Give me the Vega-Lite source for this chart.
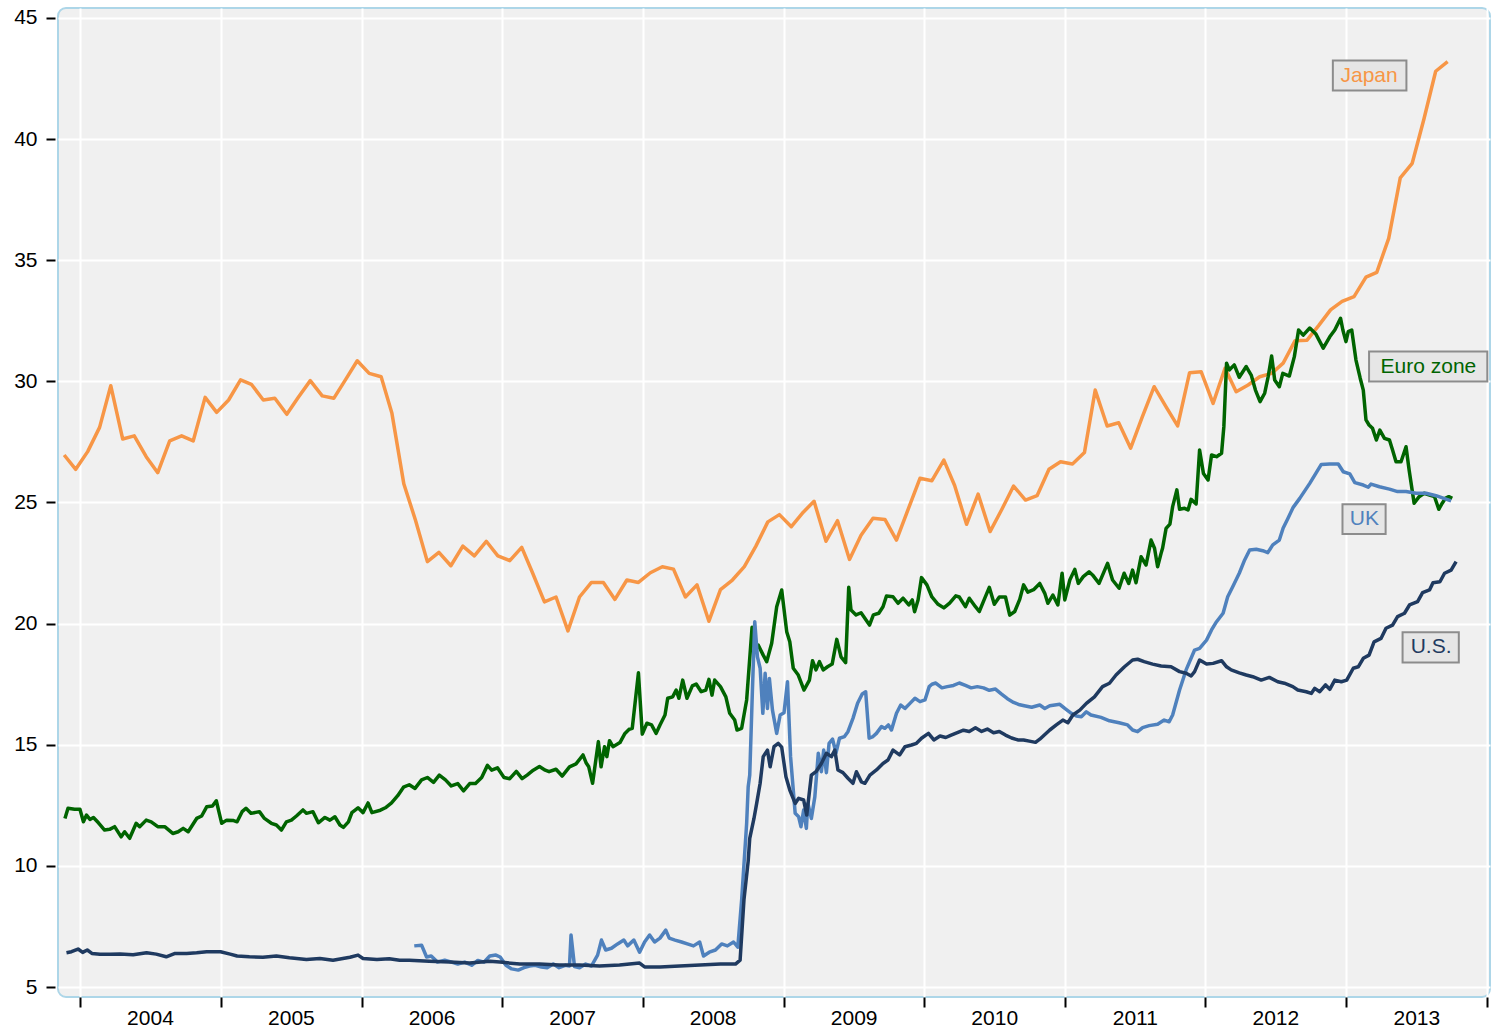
{
  "$schema": "https://vega.github.io/schema/vega-lite/v6.json",
  "width": 1432,
  "height": 989,
  "autosize": {"type": "none"},
  "padding": {"left": 58, "top": 8, "right": 3, "bottom": 31},
  "background": "white",
  "config": {
    "view": {"fill": "#f0f0f0", "stroke": "#add6e8", "strokeWidth": 2, "cornerRadius": 8},
    "font": "Liberation Sans"
  },
  "datasets": {
    "japan": [
      {"date":"2003-11-21","value":26.96},{"date":"2003-12-21","value":26.37},{"date":"2004-01-21","value":27.10},{"date":"2004-02-21","value":28.10},{"date":"2004-03-21","value":29.82},{"date":"2004-04-21","value":27.62},{"date":"2004-05-21","value":27.75},{"date":"2004-06-21","value":26.89},{"date":"2004-07-21","value":26.23},{"date":"2004-08-21","value":27.54},{"date":"2004-09-21","value":27.75},{"date":"2004-10-21","value":27.54},{"date":"2004-11-21","value":29.34},{"date":"2004-12-21","value":28.72},
      {"date":"2005-01-21","value":29.23},{"date":"2005-02-21","value":30.06},{"date":"2005-03-21","value":29.88},{"date":"2005-04-21","value":29.23},{"date":"2005-05-21","value":29.30},{"date":"2005-06-21","value":28.64},{"date":"2005-07-21","value":29.34},{"date":"2005-08-21","value":30.03},{"date":"2005-09-21","value":29.40},{"date":"2005-10-21","value":29.30},{"date":"2005-11-21","value":30.08},{"date":"2005-12-21","value":30.85},
      {"date":"2006-01-21","value":30.33},{"date":"2006-02-21","value":30.19},{"date":"2006-03-21","value":28.68},{"date":"2006-04-21","value":25.76},{"date":"2006-05-21","value":24.28},{"date":"2006-06-21","value":22.56},{"date":"2006-07-21","value":22.94},{"date":"2006-08-21","value":22.39},{"date":"2006-09-21","value":23.2},{"date":"2006-10-21","value":22.8},{"date":"2006-11-21","value":23.4},{"date":"2006-12-21","value":22.8},
      {"date":"2007-01-21","value":22.6},{"date":"2007-02-21","value":23.15},{"date":"2007-03-21","value":22.1},{"date":"2007-04-21","value":20.9},{"date":"2007-05-21","value":21.1},{"date":"2007-06-21","value":19.7},{"date":"2007-07-21","value":21.1},{"date":"2007-08-21","value":21.7},{"date":"2007-09-21","value":21.7},{"date":"2007-10-21","value":21.0},{"date":"2007-11-21","value":21.8},{"date":"2007-12-21","value":21.7},
      {"date":"2008-01-21","value":22.1},{"date":"2008-02-21","value":22.35},{"date":"2008-03-21","value":22.25},{"date":"2008-04-21","value":21.1},{"date":"2008-05-21","value":21.6},{"date":"2008-06-21","value":20.1},{"date":"2008-07-21","value":21.4},{"date":"2008-08-21","value":21.8},{"date":"2008-09-21","value":22.35},{"date":"2008-10-21","value":23.2},{"date":"2008-11-21","value":24.2},{"date":"2008-12-21","value":24.5},
      {"date":"2009-01-21","value":24.0},{"date":"2009-02-21","value":24.6},{"date":"2009-03-21","value":25.05},{"date":"2009-04-21","value":23.4},{"date":"2009-05-21","value":24.25},{"date":"2009-06-21","value":22.65},{"date":"2009-07-21","value":23.65},{"date":"2009-08-21","value":24.35},{"date":"2009-09-21","value":24.3},{"date":"2009-10-21","value":23.45},{"date":"2009-11-21","value":24.75},{"date":"2009-12-21","value":26.0},
      {"date":"2010-01-21","value":25.9},{"date":"2010-02-21","value":26.75},{"date":"2010-03-21","value":25.7},{"date":"2010-04-21","value":24.1},{"date":"2010-05-21","value":25.35},{"date":"2010-06-21","value":23.8},{"date":"2010-07-21","value":24.7},{"date":"2010-08-21","value":25.68},{"date":"2010-09-21","value":25.10},{"date":"2010-10-21","value":25.28},{"date":"2010-11-21","value":26.37},{"date":"2010-12-21","value":26.68},
      {"date":"2011-01-21","value":26.59},{"date":"2011-02-21","value":27.06},{"date":"2011-03-21","value":29.64},{"date":"2011-04-21","value":28.16},{"date":"2011-05-21","value":28.29},{"date":"2011-06-21","value":27.24},{"date":"2011-07-21","value":28.52},{"date":"2011-08-21","value":29.78},{"date":"2011-09-21","value":28.95},{"date":"2011-10-21","value":28.16},{"date":"2011-11-21","value":30.36},{"date":"2011-12-21","value":30.40},
      {"date":"2012-01-21","value":29.09},{"date":"2012-02-21","value":30.54},{"date":"2012-03-21","value":29.57},{"date":"2012-04-21","value":29.85},{"date":"2012-05-21","value":30.19},{"date":"2012-06-21","value":30.33},{"date":"2012-07-21","value":30.75},{"date":"2012-08-21","value":31.68},{"date":"2012-09-21","value":31.7},{"date":"2012-10-21","value":32.3},{"date":"2012-11-21","value":32.95},{"date":"2012-12-21","value":33.3},
      {"date":"2013-01-21","value":33.5},{"date":"2013-02-21","value":34.3},{"date":"2013-03-21","value":34.5},{"date":"2013-04-21","value":35.9},{"date":"2013-05-21","value":38.4},{"date":"2013-06-21","value":39.0},{"date":"2013-07-21","value":40.8},{"date":"2013-08-21","value":42.8},{"date":"2013-09-21","value":43.2}
    ],
    "euro": [
      {"date":"2003-11-23","value":11.96},{"date":"2003-12-01","value":12.38},{"date":"2003-12-18","value":12.34},{"date":"2004-01-01","value":12.34},{"date":"2004-01-10","value":11.82},{"date":"2004-01-18","value":12.10},{"date":"2004-01-27","value":11.92},{"date":"2004-02-05","value":12.0},{"date":"2004-02-18","value":11.78},{"date":"2004-03-05","value":11.48},{"date":"2004-03-18","value":11.51},{"date":"2004-03-31","value":11.62},{"date":"2004-04-17","value":11.20},{"date":"2004-04-26","value":11.41},{"date":"2004-05-09","value":11.14},{"date":"2004-05-26","value":11.76},{"date":"2004-06-04","value":11.62},{"date":"2004-06-21","value":11.89},{"date":"2004-07-04","value":11.82},{"date":"2004-07-21","value":11.62},{"date":"2004-08-08","value":11.62},{"date":"2004-08-29","value":11.34},{"date":"2004-09-12","value":11.41},{"date":"2004-09-25","value":11.55},{"date":"2004-10-08","value":11.41},{"date":"2004-10-30","value":11.96},{"date":"2004-11-12","value":12.06},{"date":"2004-11-25","value":12.44},{"date":"2004-12-10","value":12.47},{"date":"2004-12-20","value":12.69},
      {"date":"2005-01-03","value":11.76},{"date":"2005-01-16","value":11.89},{"date":"2005-02-03","value":11.87},{"date":"2005-02-12","value":11.82},{"date":"2005-02-25","value":12.24},{"date":"2005-03-07","value":12.38},{"date":"2005-03-20","value":12.17},{"date":"2005-04-11","value":12.24},{"date":"2005-04-24","value":11.96},{"date":"2005-05-12","value":11.76},{"date":"2005-05-25","value":11.69},{"date":"2005-06-07","value":11.48},{"date":"2005-06-20","value":11.82},{"date":"2005-07-03","value":11.89},{"date":"2005-07-16","value":12.06},{"date":"2005-08-02","value":12.31},{"date":"2005-08-11","value":12.17},{"date":"2005-08-28","value":12.24},{"date":"2005-09-11","value":11.78},{"date":"2005-09-28","value":12.0},{"date":"2005-10-11","value":11.89},{"date":"2005-10-24","value":12.03},{"date":"2005-11-06","value":11.69},{"date":"2005-11-15","value":11.59},{"date":"2005-11-28","value":11.82},{"date":"2005-12-07","value":12.2},{"date":"2005-12-23","value":12.4},
      {"date":"2006-01-05","value":12.2},{"date":"2006-01-18","value":12.6},{"date":"2006-01-28","value":12.2},{"date":"2006-02-19","value":12.3},{"date":"2006-03-04","value":12.4},{"date":"2006-03-20","value":12.6},{"date":"2006-04-05","value":12.9},{"date":"2006-04-20","value":13.25},{"date":"2006-05-05","value":13.35},{"date":"2006-05-20","value":13.2},{"date":"2006-06-06","value":13.55},{"date":"2006-06-21","value":13.65},{"date":"2006-07-07","value":13.45},{"date":"2006-07-22","value":13.75},{"date":"2006-08-07","value":13.55},{"date":"2006-08-22","value":13.3},{"date":"2006-09-08","value":13.4},{"date":"2006-09-23","value":13.1},{"date":"2006-10-09","value":13.4},{"date":"2006-10-24","value":13.4},{"date":"2006-11-09","value":13.65},{"date":"2006-11-24","value":14.15},{"date":"2006-12-05","value":13.95},{"date":"2006-12-20","value":14.05},
      {"date":"2007-01-06","value":13.65},{"date":"2007-01-21","value":13.6},{"date":"2007-02-07","value":13.9},{"date":"2007-02-22","value":13.6},{"date":"2007-03-07","value":13.75},{"date":"2007-03-23","value":13.95},{"date":"2007-04-08","value":14.1},{"date":"2007-04-23","value":13.95},{"date":"2007-05-03","value":13.89},{"date":"2007-05-21","value":13.99},{"date":"2007-06-06","value":13.71},{"date":"2007-06-25","value":14.09},{"date":"2007-07-12","value":14.21},{"date":"2007-07-30","value":14.58},{"date":"2007-08-07","value":14.26},{"date":"2007-08-14","value":14.09},{"date":"2007-08-24","value":13.41},{"date":"2007-09-08","value":15.13},{"date":"2007-09-15","value":14.09},{"date":"2007-09-24","value":14.92},{"date":"2007-09-30","value":14.51},{"date":"2007-10-07","value":15.17},{"date":"2007-10-16","value":14.92},{"date":"2007-11-03","value":15.09},{"date":"2007-11-16","value":15.47},{"date":"2007-11-27","value":15.64},{"date":"2007-12-05","value":15.68},{"date":"2007-12-21","value":17.97},{"date":"2007-12-31","value":15.44},
      {"date":"2008-01-12","value":15.89},{"date":"2008-01-24","value":15.82},{"date":"2008-02-05","value":15.47},{"date":"2008-02-15","value":15.82},{"date":"2008-02-28","value":16.23},{"date":"2008-03-06","value":16.92},{"date":"2008-03-19","value":16.98},{"date":"2008-03-28","value":17.26},{"date":"2008-04-04","value":16.92},{"date":"2008-04-14","value":17.67},{"date":"2008-04-25","value":16.92},{"date":"2008-05-09","value":17.43},{"date":"2008-05-19","value":17.51},{"date":"2008-06-01","value":17.19},{"date":"2008-06-13","value":17.26},{"date":"2008-06-21","value":17.70},{"date":"2008-06-29","value":17.05},{"date":"2008-07-06","value":17.67},{"date":"2008-07-21","value":17.40},{"date":"2008-08-04","value":16.98},{"date":"2008-08-14","value":16.30},{"date":"2008-08-27","value":16.02},{"date":"2008-09-02","value":15.61},{"date":"2008-09-14","value":15.68},{"date":"2008-09-27","value":16.85},{"date":"2008-10-11","value":19.85},{"date":"2008-10-18","value":18.84},{"date":"2008-10-27","value":19.12},{"date":"2008-11-09","value":18.70},{"date":"2008-11-18","value":18.43},{"date":"2008-12-01","value":19.19},{"date":"2008-12-14","value":20.70},{"date":"2008-12-27","value":21.39},
      {"date":"2009-01-09","value":19.67},{"date":"2009-01-17","value":19.25},{"date":"2009-01-26","value":18.16},{"date":"2009-02-08","value":17.88},{"date":"2009-02-23","value":17.26},{"date":"2009-03-09","value":17.67},{"date":"2009-03-17","value":18.47},{"date":"2009-03-26","value":18.09},{"date":"2009-04-04","value":18.43},{"date":"2009-04-14","value":18.09},{"date":"2009-04-25","value":18.22},{"date":"2009-05-07","value":18.33},{"date":"2009-05-19","value":19.35},{"date":"2009-05-30","value":18.63},{"date":"2009-06-11","value":18.39},{"date":"2009-06-19","value":21.5},{"date":"2009-06-25","value":20.56},{"date":"2009-07-08","value":20.36},{"date":"2009-07-21","value":20.45},{"date":"2009-08-03","value":20.15},{"date":"2009-08-12","value":19.94},{"date":"2009-08-22","value":20.36},{"date":"2009-09-05","value":20.43},{"date":"2009-09-16","value":20.70},{"date":"2009-09-25","value":21.14},{"date":"2009-10-12","value":21.11},{"date":"2009-10-25","value":20.84},{"date":"2009-11-07","value":21.05},{"date":"2009-11-22","value":20.77},{"date":"2009-12-01","value":20.98},{"date":"2009-12-07","value":20.49},{"date":"2009-12-16","value":20.98},{"date":"2009-12-25","value":21.9},
      {"date":"2010-01-08","value":21.6},{"date":"2010-01-21","value":21.1},{"date":"2010-02-06","value":20.8},{"date":"2010-02-21","value":20.65},{"date":"2010-03-08","value":20.85},{"date":"2010-03-24","value":21.15},{"date":"2010-04-02","value":21.1},{"date":"2010-04-18","value":20.7},{"date":"2010-04-28","value":21.05},{"date":"2010-05-14","value":20.7},{"date":"2010-05-24","value":20.5},{"date":"2010-06-06","value":21.0},{"date":"2010-06-19","value":21.5},{"date":"2010-07-02","value":20.8},{"date":"2010-07-15","value":21.1},{"date":"2010-07-31","value":21.1},{"date":"2010-08-11","value":20.35},{"date":"2010-08-24","value":20.5},{"date":"2010-09-06","value":21.0},{"date":"2010-09-16","value":21.6},{"date":"2010-09-27","value":21.3},{"date":"2010-10-12","value":21.4},{"date":"2010-10-28","value":21.66},{"date":"2010-11-10","value":21.25},{"date":"2010-11-18","value":20.84},{"date":"2010-12-01","value":21.18},{"date":"2010-12-14","value":20.77},{"date":"2010-12-25","value":22.08},
      {"date":"2011-01-01","value":20.98},{"date":"2011-01-14","value":21.80},{"date":"2011-01-27","value":22.24},{"date":"2011-02-05","value":21.66},{"date":"2011-02-18","value":21.94},{"date":"2011-03-05","value":22.14},{"date":"2011-03-14","value":22.01},{"date":"2011-03-31","value":21.66},{"date":"2011-04-22","value":22.49},{"date":"2011-05-05","value":21.80},{"date":"2011-05-22","value":21.46},{"date":"2011-06-04","value":22.08},{"date":"2011-06-16","value":21.66},{"date":"2011-06-26","value":22.21},{"date":"2011-07-05","value":21.69},{"date":"2011-07-18","value":22.76},{"date":"2011-07-31","value":22.42},{"date":"2011-08-13","value":23.45},{"date":"2011-08-22","value":23.11},{"date":"2011-08-30","value":22.35},{"date":"2011-09-08","value":22.90},{"date":"2011-09-12","value":23.12},{"date":"2011-09-21","value":23.93},{"date":"2011-10-01","value":24.11},{"date":"2011-10-08","value":24.83},{"date":"2011-10-19","value":25.52},{"date":"2011-10-26","value":24.72},{"date":"2011-11-08","value":24.76},{"date":"2011-11-17","value":24.69},{"date":"2011-11-25","value":25.13},{"date":"2011-12-08","value":24.94},{"date":"2011-12-17","value":27.17},{"date":"2011-12-27","value":26.20},
      {"date":"2012-01-08","value":25.93},{"date":"2012-01-17","value":26.96},{"date":"2012-01-30","value":26.89},{"date":"2012-02-12","value":27.03},{"date":"2012-02-18","value":28.13},{"date":"2012-02-25","value":30.75},{"date":"2012-03-03","value":30.47},{"date":"2012-03-16","value":30.68},{"date":"2012-03-29","value":30.17},{"date":"2012-04-16","value":30.61},{"date":"2012-04-29","value":30.26},{"date":"2012-05-10","value":29.64},{"date":"2012-05-22","value":29.16},{"date":"2012-06-03","value":29.51},{"date":"2012-06-12","value":30.19},{"date":"2012-06-21","value":31.05},{"date":"2012-06-29","value":30.06},{"date":"2012-07-11","value":29.78},{"date":"2012-07-20","value":30.33},{"date":"2012-08-06","value":30.22},{"date":"2012-08-19","value":31.02},{"date":"2012-08-30","value":32.12},{"date":"2012-09-11","value":31.91},{"date":"2012-09-28","value":32.2},{"date":"2012-10-14","value":31.95},{"date":"2012-11-02","value":31.37},{"date":"2012-11-19","value":31.84},{"date":"2012-12-02","value":32.12},{"date":"2012-12-17","value":32.6},{"date":"2012-12-23","value":32.12},{"date":"2012-12-31","value":31.64},
      {"date":"2013-01-06","value":32.05},{"date":"2013-01-15","value":32.12},{"date":"2013-01-26","value":30.88},{"date":"2013-02-06","value":30.13},{"date":"2013-02-14","value":29.64},{"date":"2013-02-21","value":28.41},{"date":"2013-03-01","value":28.20},{"date":"2013-03-10","value":28.06},{"date":"2013-03-20","value":27.58},{"date":"2013-03-29","value":27.99},{"date":"2013-04-10","value":27.65},{"date":"2013-04-23","value":27.58},{"date":"2013-05-01","value":27.17},{"date":"2013-05-10","value":26.68},{"date":"2013-05-23","value":26.68},{"date":"2013-06-05","value":27.30},{"date":"2013-06-13","value":26.34},{"date":"2013-06-26","value":24.97},{"date":"2013-07-09","value":25.24},{"date":"2013-07-22","value":25.38},{"date":"2013-08-05","value":25.31},{"date":"2013-08-18","value":25.24},{"date":"2013-08-29","value":24.72},{"date":"2013-09-07","value":24.97},{"date":"2013-09-15","value":25.17},{"date":"2013-09-24","value":25.24},{"date":"2013-10-03","value":25.17}
    ],
    "uk": [
      {"date":"2006-05-18","value":6.7},{"date":"2006-06-06","value":6.73},{"date":"2006-06-19","value":6.24},{"date":"2006-07-01","value":6.28},{"date":"2006-07-17","value":6.03},{"date":"2006-08-05","value":6.11},{"date":"2006-08-23","value":6.03},{"date":"2006-09-08","value":5.95},{"date":"2006-09-26","value":6.03},{"date":"2006-10-14","value":5.9},{"date":"2006-10-30","value":6.1},{"date":"2006-11-15","value":6.03},{"date":"2006-11-30","value":6.28},{"date":"2006-12-16","value":6.32},{"date":"2006-12-27","value":6.24},
      {"date":"2007-01-11","value":5.9},{"date":"2007-01-26","value":5.75},{"date":"2007-02-12","value":5.7},{"date":"2007-02-27","value":5.8},{"date":"2007-03-13","value":5.87},{"date":"2007-03-28","value":5.9},{"date":"2007-04-13","value":5.83},{"date":"2007-04-28","value":5.8},{"date":"2007-05-14","value":5.95},{"date":"2007-05-29","value":5.8},{"date":"2007-06-14","value":5.9},{"date":"2007-06-25","value":5.87},{"date":"2007-06-29","value":7.15},{"date":"2007-07-08","value":5.85},{"date":"2007-07-21","value":5.8},{"date":"2007-08-06","value":5.95},{"date":"2007-08-21","value":5.87},{"date":"2007-09-06","value":6.32},{"date":"2007-09-16","value":6.94},{"date":"2007-09-27","value":6.53},{"date":"2007-10-12","value":6.6},{"date":"2007-10-28","value":6.78},{"date":"2007-11-13","value":6.94},{"date":"2007-11-23","value":6.7},{"date":"2007-12-09","value":6.94},{"date":"2007-12-24","value":6.44},
      {"date":"2008-01-06","value":6.86},{"date":"2008-01-19","value":7.15},{"date":"2008-02-01","value":6.86},{"date":"2008-02-15","value":7.02},{"date":"2008-03-01","value":7.35},{"date":"2008-03-10","value":7.02},{"date":"2008-03-25","value":6.94},{"date":"2008-04-11","value":6.86},{"date":"2008-04-26","value":6.78},{"date":"2008-05-12","value":6.7},{"date":"2008-05-28","value":6.86},{"date":"2008-06-07","value":6.28},{"date":"2008-06-22","value":6.44},{"date":"2008-07-08","value":6.53},{"date":"2008-07-24","value":6.78},{"date":"2008-08-08","value":6.7},{"date":"2008-08-24","value":6.86},{"date":"2008-09-04","value":6.65},{"date":"2008-09-14","value":8.6},{"date":"2008-09-27","value":11.76},{"date":"2008-10-01","value":13.27},{"date":"2008-10-05","value":13.75},{"date":"2008-10-12","value":17.26},{"date":"2008-10-18","value":20.08},{"date":"2008-10-25","value":18.63},{"date":"2008-11-01","value":18.16},{"date":"2008-11-08","value":16.30},{"date":"2008-11-14","value":17.95},{"date":"2008-11-20","value":16.50},{"date":"2008-11-25","value":17.74},{"date":"2008-12-03","value":16.43},{"date":"2008-12-14","value":15.47},{"date":"2008-12-23","value":16.23},
      {"date":"2009-01-02","value":16.32},{"date":"2009-01-11","value":17.60},{"date":"2009-01-19","value":14.51},{"date":"2009-01-31","value":12.17},{"date":"2009-02-09","value":12.03},{"date":"2009-02-15","value":11.62},{"date":"2009-02-22","value":12.31},{"date":"2009-03-01","value":11.55},{"date":"2009-03-05","value":12.58},{"date":"2009-03-14","value":11.96},{"date":"2009-03-23","value":12.85},{"date":"2009-04-01","value":14.65},{"date":"2009-04-09","value":13.89},{"date":"2009-04-15","value":14.78},{"date":"2009-04-22","value":13.85},{"date":"2009-04-29","value":15.06},{"date":"2009-05-08","value":15.23},{"date":"2009-05-17","value":14.67},{"date":"2009-05-26","value":15.27},{"date":"2009-06-08","value":15.34},{"date":"2009-06-17","value":15.54},{"date":"2009-06-30","value":16.09},{"date":"2009-07-12","value":16.71},{"date":"2009-07-24","value":17.10},{"date":"2009-08-02","value":17.19},{"date":"2009-08-11","value":15.27},{"date":"2009-08-21","value":15.34},{"date":"2009-08-30","value":15.47},{"date":"2009-09-12","value":15.75},{"date":"2009-09-21","value":15.68},{"date":"2009-09-30","value":15.82},{"date":"2009-10-08","value":15.61},{"date":"2009-10-21","value":16.30},{"date":"2009-11-01","value":16.64},{"date":"2009-11-12","value":16.50},{"date":"2009-11-25","value":16.71},{"date":"2009-12-08","value":16.92},{"date":"2009-12-21","value":16.78},
      {"date":"2010-01-03","value":16.85},{"date":"2010-01-14","value":17.40},{"date":"2010-01-21","value":17.5},{"date":"2010-01-31","value":17.55},{"date":"2010-02-16","value":17.35},{"date":"2010-03-02","value":17.4},{"date":"2010-03-18","value":17.45},{"date":"2010-04-02","value":17.55},{"date":"2010-04-18","value":17.45},{"date":"2010-05-03","value":17.35},{"date":"2010-05-19","value":17.4},{"date":"2010-06-04","value":17.35},{"date":"2010-06-19","value":17.25},{"date":"2010-07-05","value":17.3},{"date":"2010-07-20","value":17.1},{"date":"2010-08-05","value":16.9},{"date":"2010-08-21","value":16.75},{"date":"2010-09-06","value":16.65},{"date":"2010-09-21","value":16.6},{"date":"2010-10-07","value":16.55},{"date":"2010-10-28","value":16.64},{"date":"2010-11-10","value":16.50},{"date":"2010-11-23","value":16.61},{"date":"2010-12-19","value":16.67},
      {"date":"2011-01-01","value":16.50},{"date":"2011-01-18","value":16.30},{"date":"2011-01-31","value":16.19},{"date":"2011-02-13","value":16.16},{"date":"2011-02-26","value":16.36},{"date":"2011-03-10","value":16.23},{"date":"2011-04-05","value":16.13},{"date":"2011-04-27","value":15.99},{"date":"2011-05-22","value":15.91},{"date":"2011-06-13","value":15.82},{"date":"2011-06-26","value":15.61},{"date":"2011-07-09","value":15.54},{"date":"2011-07-22","value":15.71},{"date":"2011-08-08","value":15.79},{"date":"2011-08-30","value":15.85},{"date":"2011-09-16","value":16.02},{"date":"2011-09-29","value":15.95},{"date":"2011-10-08","value":16.23},{"date":"2011-10-26","value":17.26},{"date":"2011-11-12","value":18.09},{"date":"2011-12-04","value":18.91},{"date":"2011-12-17","value":18.98},
      {"date":"2012-01-04","value":19.32},{"date":"2012-01-17","value":19.74},{"date":"2012-01-30","value":20.08},{"date":"2012-02-16","value":20.43},{"date":"2012-02-28","value":21.11},{"date":"2012-03-12","value":21.52},{"date":"2012-03-29","value":22.08},{"date":"2012-04-12","value":22.63},{"date":"2012-04-25","value":23.04},{"date":"2012-05-12","value":23.07},{"date":"2012-05-29","value":23.01},{"date":"2012-06-11","value":22.93},{"date":"2012-06-24","value":23.25},{"date":"2012-07-11","value":23.45},{"date":"2012-07-21","value":23.95},{"date":"2012-08-01","value":24.3},{"date":"2012-08-16","value":24.8},{"date":"2012-09-02","value":25.17},{"date":"2012-09-28","value":25.79},{"date":"2012-10-28","value":26.57},{"date":"2012-11-19","value":26.59},{"date":"2012-12-11","value":26.59},{"date":"2012-12-24","value":26.27},
      {"date":"2013-01-10","value":26.18},{"date":"2013-01-23","value":25.82},{"date":"2013-02-14","value":25.72},{"date":"2013-02-27","value":25.63},{"date":"2013-03-06","value":25.76},{"date":"2013-03-28","value":25.65},{"date":"2013-04-23","value":25.55},{"date":"2013-05-14","value":25.45},{"date":"2013-06-05","value":25.45},{"date":"2013-07-01","value":25.38},{"date":"2013-07-27","value":25.38},{"date":"2013-08-22","value":25.28},{"date":"2013-09-17","value":25.14},{"date":"2013-09-30","value":25.07}
    ],
    "us": [
      {"date":"2003-11-27","value":6.42},{"date":"2003-12-10","value":6.46},{"date":"2003-12-27","value":6.57},{"date":"2004-01-08","value":6.43},{"date":"2004-01-20","value":6.53},{"date":"2004-02-01","value":6.39},{"date":"2004-02-22","value":6.35},{"date":"2004-03-19","value":6.35},{"date":"2004-04-14","value":6.36},{"date":"2004-05-18","value":6.33},{"date":"2004-06-22","value":6.42},{"date":"2004-07-17","value":6.36},{"date":"2004-08-12","value":6.25},{"date":"2004-09-04","value":6.39},{"date":"2004-10-04","value":6.39},{"date":"2004-10-30","value":6.42},{"date":"2004-11-25","value":6.46},{"date":"2004-12-31","value":6.46},
      {"date":"2005-01-25","value":6.36},{"date":"2005-02-12","value":6.28},{"date":"2005-03-16","value":6.25},{"date":"2005-04-20","value":6.23},{"date":"2005-05-25","value":6.28},{"date":"2005-06-28","value":6.21},{"date":"2005-08-11","value":6.14},{"date":"2005-09-15","value":6.18},{"date":"2005-10-19","value":6.11},{"date":"2005-12-02","value":6.23},{"date":"2005-12-23","value":6.32},
      {"date":"2006-01-05","value":6.18},{"date":"2006-02-10","value":6.14},{"date":"2006-03-14","value":6.17},{"date":"2006-04-10","value":6.11},{"date":"2006-05-05","value":6.11},{"date":"2006-06-26","value":6.07},{"date":"2006-08-18","value":6.03},{"date":"2006-10-09","value":5.99},{"date":"2006-11-30","value":6.07},{"date":"2006-12-26","value":6.03},
      {"date":"2007-02-16","value":5.95},{"date":"2007-04-08","value":5.95},{"date":"2007-05-29","value":5.91},{"date":"2007-07-21","value":5.91},{"date":"2007-09-11","value":5.87},{"date":"2007-11-02","value":5.91},{"date":"2007-12-24","value":5.99},
      {"date":"2008-01-06","value":5.83},{"date":"2008-02-15","value":5.83},{"date":"2008-04-06","value":5.87},{"date":"2008-05-29","value":5.91},{"date":"2008-07-21","value":5.95},{"date":"2008-08-29","value":5.95},{"date":"2008-09-10","value":6.11},{"date":"2008-09-20","value":8.6},{"date":"2008-10-01","value":10.2},{"date":"2008-10-05","value":11.14},{"date":"2008-10-16","value":11.96},{"date":"2008-10-23","value":12.58},{"date":"2008-11-01","value":13.41},{"date":"2008-11-09","value":14.51},{"date":"2008-11-20","value":14.78},{"date":"2008-11-27","value":14.09},{"date":"2008-12-07","value":14.92},{"date":"2008-12-18","value":15.06},{"date":"2008-12-27","value":14.90},
      {"date":"2009-01-07","value":13.68},{"date":"2009-01-17","value":13.13},{"date":"2009-01-31","value":12.58},{"date":"2009-02-09","value":12.79},{"date":"2009-02-22","value":12.72},{"date":"2009-03-02","value":12.10},{"date":"2009-03-14","value":13.75},{"date":"2009-03-26","value":13.89},{"date":"2009-04-09","value":14.23},{"date":"2009-04-22","value":14.65},{"date":"2009-05-05","value":14.51},{"date":"2009-05-14","value":14.78},{"date":"2009-05-22","value":13.96},{"date":"2009-06-04","value":13.85},{"date":"2009-06-17","value":13.62},{"date":"2009-06-30","value":13.41},{"date":"2009-07-09","value":13.89},{"date":"2009-07-22","value":13.47},{"date":"2009-07-31","value":13.41},{"date":"2009-08-13","value":13.75},{"date":"2009-08-30","value":13.96},{"date":"2009-09-16","value":14.23},{"date":"2009-09-29","value":14.37},{"date":"2009-10-12","value":14.78},{"date":"2009-10-29","value":14.58},{"date":"2009-11-12","value":14.92},{"date":"2009-11-29","value":14.99},{"date":"2009-12-12","value":15.06},{"date":"2009-12-25","value":15.27},
      {"date":"2010-01-12","value":15.47},{"date":"2010-01-26","value":15.2},{"date":"2010-02-11","value":15.36},{"date":"2010-02-26","value":15.3},{"date":"2010-03-12","value":15.4},{"date":"2010-03-28","value":15.5},{"date":"2010-04-13","value":15.6},{"date":"2010-04-28","value":15.55},{"date":"2010-05-14","value":15.7},{"date":"2010-05-30","value":15.55},{"date":"2010-06-14","value":15.65},{"date":"2010-06-30","value":15.5},{"date":"2010-07-15","value":15.55},{"date":"2010-07-31","value":15.4},{"date":"2010-08-16","value":15.28},{"date":"2010-09-01","value":15.2},{"date":"2010-09-16","value":15.2},{"date":"2010-10-01","value":15.15},{"date":"2010-10-17","value":15.1},{"date":"2010-10-28","value":15.23},{"date":"2010-11-23","value":15.61},{"date":"2010-12-10","value":15.82},{"date":"2010-12-27","value":16.02},
      {"date":"2011-01-09","value":15.91},{"date":"2011-01-22","value":16.23},{"date":"2011-02-09","value":16.43},{"date":"2011-02-26","value":16.71},{"date":"2011-03-19","value":16.98},{"date":"2011-04-09","value":17.40},{"date":"2011-04-27","value":17.54},{"date":"2011-05-14","value":17.88},{"date":"2011-06-05","value":18.22},{"date":"2011-06-26","value":18.50},{"date":"2011-07-09","value":18.53},{"date":"2011-07-26","value":18.43},{"date":"2011-08-17","value":18.33},{"date":"2011-09-08","value":18.25},{"date":"2011-10-04","value":18.22},{"date":"2011-10-26","value":18.02},{"date":"2011-11-12","value":17.95},{"date":"2011-11-25","value":17.84},{"date":"2011-12-04","value":18.02},{"date":"2011-12-17","value":18.50},
      {"date":"2012-01-04","value":18.33},{"date":"2012-01-21","value":18.36},{"date":"2012-02-12","value":18.47},{"date":"2012-02-25","value":18.22},{"date":"2012-03-08","value":18.09},{"date":"2012-03-29","value":17.97},{"date":"2012-04-16","value":17.88},{"date":"2012-05-03","value":17.81},{"date":"2012-05-25","value":17.67},{"date":"2012-06-15","value":17.78},{"date":"2012-07-07","value":17.60},{"date":"2012-07-24","value":17.54},{"date":"2012-08-15","value":17.40},{"date":"2012-08-28","value":17.26},{"date":"2012-09-19","value":17.19},{"date":"2012-10-02","value":17.12},{"date":"2012-10-11","value":17.33},{"date":"2012-10-24","value":17.19},{"date":"2012-11-08","value":17.47},{"date":"2012-11-19","value":17.29},{"date":"2012-12-02","value":17.67},{"date":"2012-12-19","value":17.60},
      {"date":"2013-01-02","value":17.67},{"date":"2013-01-19","value":18.16},{"date":"2013-02-01","value":18.22},{"date":"2013-02-14","value":18.57},{"date":"2013-03-01","value":18.70},{"date":"2013-03-14","value":19.25},{"date":"2013-04-01","value":19.39},{"date":"2013-04-14","value":19.81},{"date":"2013-05-01","value":19.94},{"date":"2013-05-14","value":20.29},{"date":"2013-06-01","value":20.43},{"date":"2013-06-14","value":20.77},{"date":"2013-07-05","value":20.91},{"date":"2013-07-18","value":21.28},{"date":"2013-08-05","value":21.39},{"date":"2013-08-14","value":21.69},{"date":"2013-09-01","value":21.73},{"date":"2013-09-13","value":22.08},{"date":"2013-09-30","value":22.21},{"date":"2013-10-13","value":22.56}
    ],
    "labels": [
      {"series":"Japan","date":"2013-03-01","value":42.62,"left":"2012-11-27","right":"2013-06-06","bottom":42.0,"top":43.24},
      {"series":"Euro zone","date":"2013-08-02","value":30.61,"left":"2013-03-01","right":"2014-01-02","bottom":29.99,"top":31.23},
      {"series":"UK","date":"2013-02-17","value":24.32,"left":"2012-12-22","right":"2013-04-13","bottom":23.70,"top":24.93},
      {"series":"U.S.","date":"2013-08-09","value":19.02,"left":"2013-05-27","right":"2013-10-20","bottom":18.40,"top":19.64}
    ]
  },
  "encoding": {
    "x": {
      "field": "date", "type": "temporal", "title": null,
      "scale": {"type": "utc", "domain": [{"year": 2003, "month": 11, "date": 5, "utc": true}, {"year": 2014, "month": 1, "date": 9, "utc": true}]},
      "axis": {
        "domain": false, "grid": true, "gridColor": "#ffffff", "gridWidth": 2, "gridOpacity": 1,
        "values": [
          {"year": 2004, "month": 1, "date": 1, "utc": true}, {"year": 2005, "month": 1, "date": 1, "utc": true},
          {"year": 2006, "month": 1, "date": 1, "utc": true}, {"year": 2007, "month": 1, "date": 1, "utc": true},
          {"year": 2008, "month": 1, "date": 1, "utc": true}, {"year": 2009, "month": 1, "date": 1, "utc": true},
          {"year": 2010, "month": 1, "date": 1, "utc": true}, {"year": 2011, "month": 1, "date": 1, "utc": true},
          {"year": 2012, "month": 1, "date": 1, "utc": true}, {"year": 2013, "month": 1, "date": 1, "utc": true},
          {"year": 2014, "month": 1, "date": 1, "utc": true}
        ],
        "labelExpr": "utcyear(datum.value) > 2013 ? '' : utcFormat(datum.value, '%Y')",
        "labelOffset": 70, "labelOverlap": false, "labelFlush": false, "labelBound": false,
        "labelFontSize": 21, "labelColor": "#000000", "labelFont": "Liberation Sans", "labelPadding": 0,
        "ticks": true, "tickColor": "#000000", "tickWidth": 2, "tickSize": 10, "offset": 0
      }
    },
    "y": {
      "field": "value", "type": "quantitative", "title": null,
      "scale": {"domain": [4.59, 45.41], "nice": false, "zero": false},
      "axis": {
        "domain": false, "grid": true, "gridColor": "#ffffff", "gridWidth": 2, "gridOpacity": 1,
        "values": [5, 10, 15, 20, 25, 30, 35, 40, 45],
        "labelFontSize": 21, "labelColor": "#000000", "labelFont": "Liberation Sans", "labelPadding": 9,
        "ticks": true, "tickColor": "#000000", "tickWidth": 2, "tickSize": 9, "offset": 3
      }
    }
  },
  "layer": [
    {"data": {"name": "japan"}, "mark": {"type": "line", "color": "#f79646", "strokeWidth": 3.5, "strokeJoin": "round"}},
    {"data": {"name": "euro"}, "mark": {"type": "line", "color": "#006400", "strokeWidth": 3.5, "strokeJoin": "round"}},
    {"data": {"name": "uk"}, "mark": {"type": "line", "color": "#4f81bd", "strokeWidth": 3.5, "strokeJoin": "round"}},
    {"data": {"name": "us"}, "mark": {"type": "line", "color": "#1f3a60", "strokeWidth": 3.5, "strokeJoin": "round"}},
    {
      "data": {"name": "labels"},
      "mark": {"type": "rect", "fill": "#e6e6e6", "stroke": "#8c8c8c", "strokeWidth": 2},
      "encoding": {
        "x": {"field": "left", "type": "temporal", "title": null},
        "x2": {"field": "right"},
        "y": {"field": "bottom", "type": "quantitative", "title": null},
        "y2": {"field": "top"}
      }
    },
    {
      "data": {"name": "labels"},
      "mark": {"type": "text", "fontSize": 21, "font": "Liberation Sans", "align": "center", "baseline": "middle"},
      "encoding": {
        "text": {"field": "series"},
        "color": {
          "field": "series", "type": "nominal", "legend": null,
          "scale": {"domain": ["Japan", "Euro zone", "UK", "U.S."], "range": ["#f79646", "#006400", "#4f81bd", "#1f3a60"]}
        }
      }
    }
  ]
}
